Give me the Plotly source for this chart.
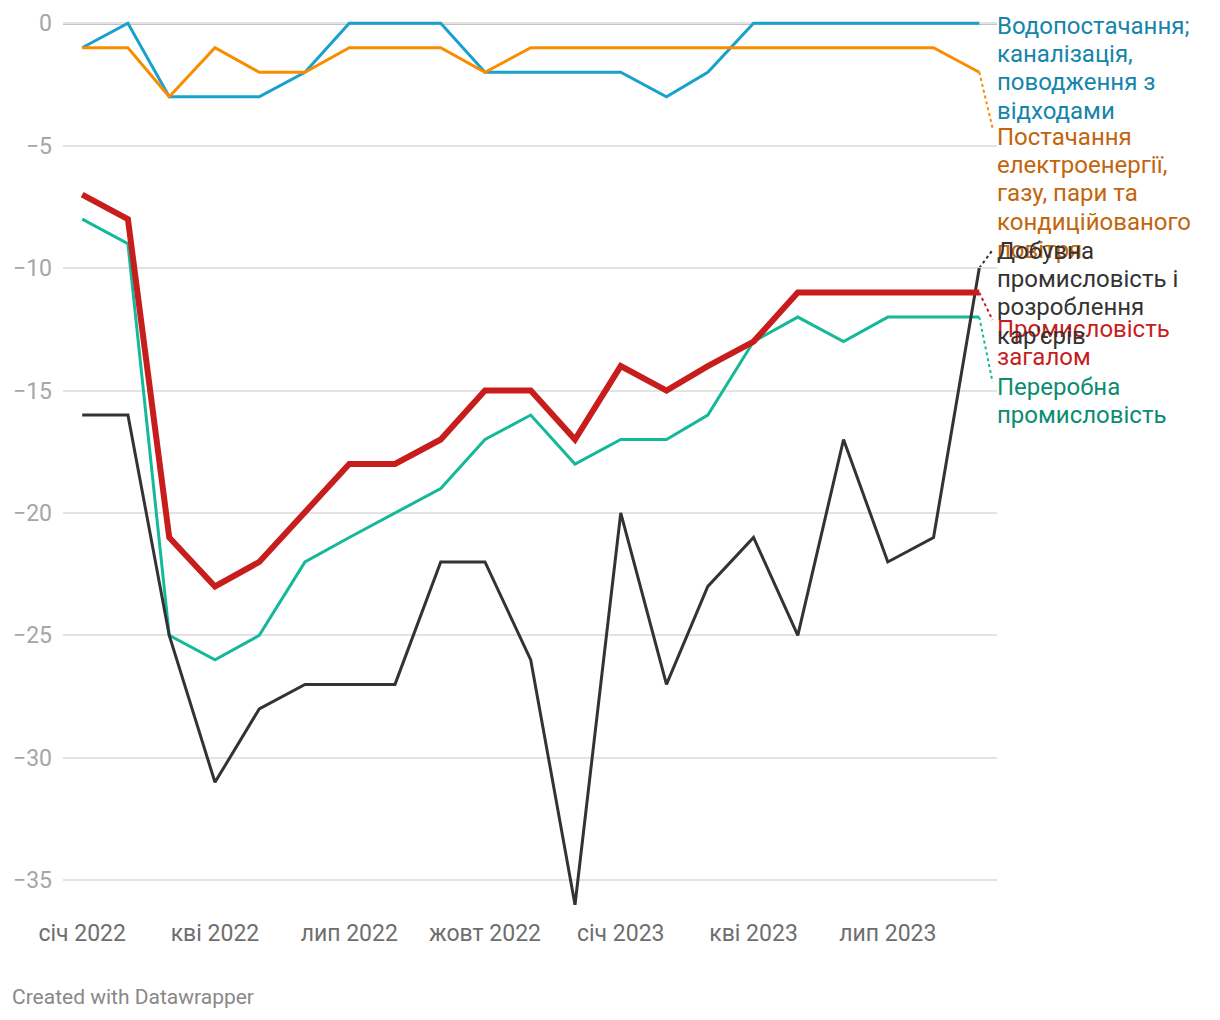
import plotly.graph_objects as go

months = ["2022-01-01", "2022-02-01", "2022-03-01", "2022-04-01", "2022-05-01", "2022-06-01",
          "2022-07-01", "2022-08-01", "2022-09-01", "2022-10-01", "2022-11-01", "2022-12-01",
          "2023-01-01", "2023-02-01", "2023-03-01", "2023-04-01", "2023-05-01", "2023-06-01",
          "2023-07-01", "2023-08-01", "2023-09-01"]

water = [-1, 0, -3, -3, -3, -2, 0, 0, 0, -2, -2, -2, -2, -3, -2, 0, 0, 0, 0, 0, 0]
energy = [-1, -1, -3, -1, -2, -2, -1, -1, -1, -2, -1, -1, -1, -1, -1, -1, -1, -1, -1, -1, -2]
mining = [-16, -16, -25, -31, -28, -27, -27, -27, -22, -22, -26, -36, -20, -27, -23, -21, -25, -17, -22, -21, -10]
manufacturing = [-8, -9, -25, -26, -25, -22, -21, -20, -19, -17, -16, -18, -17, -17, -16, -13, -12, -13, -12, -12, -12]
industry = [-7, -8, -21, -23, -22, -20, -18, -18, -17, -15, -15, -17, -14, -15, -14, -13, -11, -11, -11, -11, -11]

tick_dates = ["2022-01-01", "2022-04-01", "2022-07-01", "2022-10-01", "2023-01-01", "2023-04-01", "2023-07-01"]
tick_text = ["січ 2022", "кві 2022", "лип 2022", "жовт 2022", "січ 2023", "кві 2023", "лип 2023"]
y_ticks = [0, -5, -10, -15, -20, -25, -30, -35]

FONT = "Roboto"
PX_PER_UNIT = 906 / 37.0
LINE_H = 28.2


def px_to_val(p):
    return -(p - 23.2) / PX_PER_UNIT


# (label lines, values, line colour, text colour, width, first-line centre px, connector end px)
series = [
    (["Водопостачання;", "каналізація,", "поводження з", "відходами"], water, "#18a1cd", "#1585ab", 3, 26, None),
    (["Постачання", "електроенергії,", "газу, пари та", "кондиційованого", "повітря"], energy, "#fa8c00", "#c2650c", 3, 137, 128),
    (["Промисловість", "загалом"], industry, "#c71e1d", "#c71e1d", 6, 329, 320),
    (["Переробна", "промисловість"], manufacturing, "#15b99a", "#0b8c72", 3, 387, 382),
    (["Добувна", "промисловість і", "розроблення", "кар'єрів"], mining, "#333333", "#333333", 3, 251, 250),
]

fig = go.Figure()
order = [0, 1, 3, 4, 2]
for i in order:
    lines, vals, col, tcol, w, ly, cy = series[i]
    fig.add_trace(go.Scatter(x=months, y=vals, mode="lines",
                             line=dict(color=col, width=w, shape="linear"),
                             hoverinfo="skip", showlegend=False))

annotations = []
shapes = []
for lines, vals, col, tcol, w, ly, cy in series:
    for k, txt in enumerate(lines):
        annotations.append(dict(xref="paper", yref="y", x=1.0, y=px_to_val(ly), xanchor="left",
                                yanchor="middle", yshift=-LINE_H * k, xshift=-2,
                                text=txt, showarrow=False, align="left",
                                font=dict(family=FONT, size=24, color=tcol)))
    if cy is not None:
        shapes.append(dict(type="line", xref="x", yref="y", x0=months[-1], y0=vals[-1],
                           x1="2023-09-10", y1=px_to_val(cy), layer="below",
                           line=dict(color=col, width=2, dash="dot")))

annotations.append(dict(xref="paper", yref="paper", x=(10 - 63) / 934, y=-(997 - 917) / 906,
                        xanchor="left", yanchor="middle", text="Created with Datawrapper",
                        showarrow=False, font=dict(family=FONT, size=21, color="#888888")))

shapes.append(dict(type="line", xref="paper", yref="y", x0=0, x1=1, y0=0, y1=0, layer="below",
                   line=dict(color="#111111", width=2)))

fig.update_layout(
    width=1220, height=1020,
    margin=dict(l=63, r=223, t=11, b=103),
    paper_bgcolor="white", plot_bgcolor="white",
    font=dict(family=FONT, size=23, color="#999999"),
    xaxis=dict(type="date", range=["2021-12-19", "2023-09-13"], tickvals=tick_dates, ticktext=tick_text,
               showgrid=False, zeroline=False, showline=False, ticks="",
               tickfont=dict(family=FONT, size=23, color="#6e6e6e")),
    yaxis=dict(range=[-36.5, 0.5], tickvals=y_ticks,
               ticktext=["0" if v == 0 else "\u2212" + str(-v) for v in y_ticks],
               showgrid=True, gridcolor="#e3e3e3", gridwidth=1.5, zeroline=False, showline=False,
               ticks="", ticklabelstandoff=10,
               tickfont=dict(family=FONT, size=23, color="#a6a6a6")),
    annotations=annotations, shapes=shapes,
)

fig.write_html("out.html")
